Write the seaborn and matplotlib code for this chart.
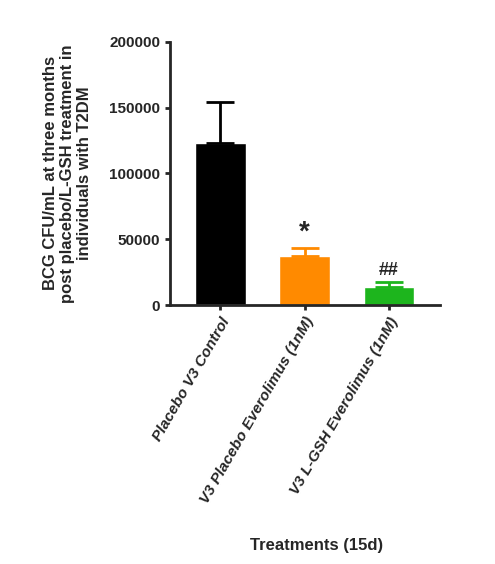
import numpy as np
import pandas as pd
import matplotlib
matplotlib.use("Agg")
import matplotlib.pyplot as plt
import seaborn as sns

groups = ["Placebo V3 Control", "V3 Placebo Everolimus (1nM)", "V3 L-GSH Everolimus (1nM)"]
means = [123000, 37500, 13500]
errors = [31000, 6000, 4000]
marks = ["", "*", "##"]
colors = ["#000000", "#FF8A00", "#1DB51D"]

sns.set_style("ticks")
plt.rcParams["font.family"] = ["Liberation Sans", "DejaVu Sans"]

df = pd.DataFrame({"group": groups, "mean": means})
fig = plt.figure(figsize=(4.95, 5.64), dpi=100)
ax = fig.add_axes([0.343, 0.459, 0.545, 0.467])
sns.barplot(data=df, x="group", y="mean", hue="group", palette=colors,
            saturation=1, width=0.6, legend=False, ax=ax)
x = np.arange(len(groups))
for i in range(len(groups)):
    ax.errorbar(x[i], means[i], yerr=[[0], [errors[i]]], fmt="none",
                ecolor=colors[i], elinewidth=2, capsize=10, capthick=2)
    if marks[i]:
        ax.text(x[i], means[i] + errors[i] + 2000, marks[i], ha="center",
                va="bottom", fontweight="bold",
                fontsize=20 if marks[i] == "*" else 13)

ax.set_ylim(0, 200000)
ax.set_yticks([0, 50000, 100000, 150000, 200000])
ax.set_xlim(-0.6, 2.6)
for s in ["top", "right"]:
    ax.spines[s].set_visible(False)
for s in ["left", "bottom"]:
    ax.spines[s].set_linewidth(2)
ax.tick_params(width=2, labelsize=11)
for t in ax.get_yticklabels():
    t.set_fontweight("bold")
ax.set_xticks(x)
ax.set_xticklabels(groups, rotation=60, ha="right", rotation_mode="anchor",
                   fontweight="bold", fontstyle="italic", fontsize=11)
ax.set_xlabel("")
ax.set_ylabel("BCG CFU/mL at three months\npost placebo/L-GSH treatment in\nindividuals with T2DM",
              fontweight="bold", fontsize=12, labelpad=12)
fig.text(0.64, 0.025, "Treatments (15d)", ha="center", fontweight="bold", fontsize=12)
fig.savefig("out.png", dpi=100)
